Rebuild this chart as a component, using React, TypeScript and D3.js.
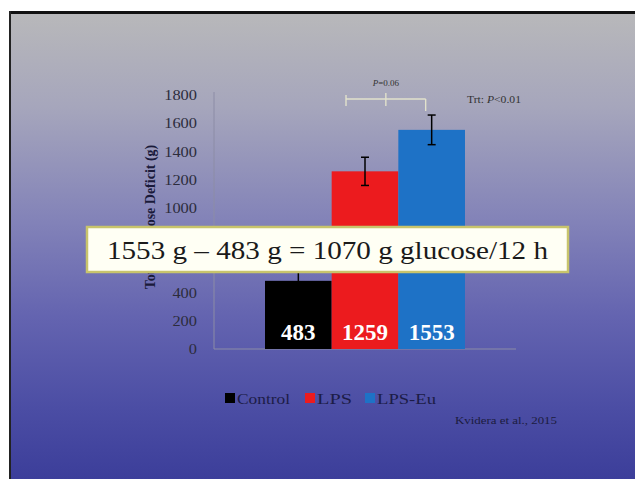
import React from "react";
import * as d3 from "d3";

const series = ["Control", "LPS", "LPS-Eu"];
const values = [483, 1259, 1553];
const errors = [100, 100, 105];
const colors = ["#000000", "#ec1b1e", "#1e72c6"];
const yTicks = [0, 200, 400, 600, 800, 1000, 1200, 1400, 1600, 1800];
const yLabel = "Total Glucose Deficit (g)";
const boxText = "1553 g \u2013 483 g = 1070 g glucose/12 h";
const citation = "Kvidera et al., 2015";

const W = 635;
const H = 479;
const FONT = "'Liberation Serif', 'Times New Roman', serif";

export default function App() {
  const y = d3.scaleLinear().domain([0, 1800]).range([349, 95]);
  const x = d3.scaleBand<string>().domain(series).range([265, 465]).padding(0);
  const bw = x.bandwidth();
  const axisX = 214;
  const plotRight = 516;
  const cx = (s: string) => (x(s) as number) + bw / 2;

  const bracketY = 99;
  const bx1 = cx("LPS") - 19;
  const bx2 = cx("LPS-Eu") - 6;
  const bmid = (bx1 + bx2) / 2;

  const legendX = [225, 305, 365];
  const legendW = [53, 35, 59];

  return (
    <div style={{ position: "absolute", left: 0, top: 0 }}>
      <svg width={W} height={H} style={{ display: "block" }} fontFamily={FONT}>
        <defs>
          <linearGradient id="bg" x1="0" y1="0" x2="0" y2="1">
            <stop offset="0" stopColor="#b8b8ba" />
            <stop offset="0.2" stopColor="#a6a6bc" />
            <stop offset="0.45" stopColor="#8282b8" />
            <stop offset="0.65" stopColor="#6464b0" />
            <stop offset="0.85" stopColor="#4b4da4" />
            <stop offset="1" stopColor="#3c3e9a" />
          </linearGradient>
        </defs>
        <rect x={0} y={0} width={W} height={H} fill="#ffffff" />
        <rect x={10} y={13} width={W - 10} height={H - 13} fill="url(#bg)" />
        <rect x={10} y={11} width={W - 10} height={3} fill="#111" />
        <rect x={9} y={11} width={2} height={H - 11} fill="#222" />

        {/* axis */}
        <line x1={axisX} x2={axisX} y1={y(1800) - 3} y2={y(0)} stroke="#8c8ca6" strokeWidth={1} />
        <line x1={axisX} x2={plotRight} y1={y(0)} y2={y(0)} stroke="#8c8ca6" strokeWidth={1} />
        {yTicks.map((t) => {
          const s = String(t);
          return (
            <text
              key={t}
              x={197}
              y={y(t)}
              dy="0.35em"
              textAnchor="end"
              fontSize={15}
              fill="#2c2c3c"
              textLength={s.length * 8.2}
              lengthAdjust="spacingAndGlyphs"
            >
              {s}
            </text>
          );
        })}
        <text
          transform={`translate(150, 217) rotate(-90)`}
          textAnchor="middle"
          fontSize={14}
          fontWeight="bold"
          fill="#1a1a3a"
          dy="0.35em"
        >
          {yLabel}
        </text>

        {/* bars */}
        {series.map((s, i) => (
          <rect key={s} x={x(s)} y={y(values[i])} width={bw} height={y(0) - y(values[i])} fill={colors[i]} />
        ))}
        {/* error bars */}
        {series.map((s, i) => {
          const c = cx(s);
          const top = y(values[i] + errors[i]);
          const bot = y(values[i] - errors[i]);
          return (
            <g key={s} stroke="#000" strokeWidth={1.5}>
              <line x1={c} x2={c} y1={top} y2={bot} />
              <line x1={c - 4} x2={c + 4} y1={top} y2={top} />
              <line x1={c - 4} x2={c + 4} y1={bot} y2={bot} />
            </g>
          );
        })}
        {/* value labels */}
        {series.map((s, i) => (
          <text key={s} x={cx(s)} y={340} textAnchor="middle" fontSize={23} fontWeight="bold" fill="#ffffff">
            {values[i]}
          </text>
        ))}

        {/* significance bracket */}
        <g stroke="#e2e2cc" strokeWidth={1.4} fill="none">
          <line x1={bx1} x2={bx2} y1={bracketY} y2={bracketY} />
          <line x1={bx1} x2={bx1} y1={bracketY - 4} y2={bracketY + 7} />
          <line x1={bx2} x2={bx2} y1={bracketY} y2={bracketY + 12} />
          <line x1={bmid} x2={bmid} y1={bracketY - 6} y2={bracketY + 7} />
        </g>
        <text x={bmid} y={86} textAnchor="middle" fontSize={9} fill="#333">
          <tspan fontStyle="italic">P</tspan>=0.06
        </text>
        <text x={467} y={103} fontSize={10} fill="#333" textLength={54} lengthAdjust="spacingAndGlyphs">
          Trt: <tspan fontStyle="italic">P</tspan>&lt;0.01
        </text>

        {/* equation box */}
        <rect x={87} y={227} width={481} height={45} fill="#fffff4" stroke="#c8c46c" strokeWidth={2.5} />
        <text x={107} y={259} fontSize={26} fill="#1a1a1a" textLength={441} lengthAdjust="spacingAndGlyphs">
          {boxText}
        </text>

        {/* legend */}
        {series.map((s, i) => (
          <g key={s}>
            <rect x={legendX[i]} y={393} width={10} height={10} fill={colors[i]} />
            <text
              x={legendX[i] + 12}
              y={404}
              fontSize={15}
              fill="#1c1c46"
              textLength={legendW[i]}
              lengthAdjust="spacingAndGlyphs"
            >
              {s}
            </text>
          </g>
        ))}

        <text x={455} y={424} fontSize={11} fill="#1c1c40" textLength={102} lengthAdjust="spacingAndGlyphs">
          {citation}
        </text>
      </svg>
    </div>
  );
}
